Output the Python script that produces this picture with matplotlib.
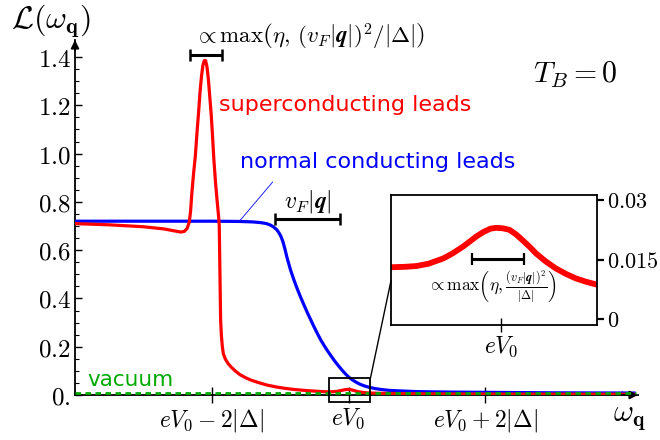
import matplotlib
matplotlib.use("Agg")
import matplotlib.pyplot as plt
from matplotlib.patches import Rectangle, ConnectionPatch

plt.rcParams["mathtext.fontset"] = "cm"
plt.rcParams["font.family"] = ["DejaVu Sans"]

# frequency axis in units of |Delta|, centred on eV0
omega_sc = [-4.0, -3.5, -3.0, -2.7, -2.55, -2.45, -2.40, -2.36, -2.33, -2.31, -2.29,
            -2.265, -2.24, -2.215, -2.19, -2.17, -2.15, -2.13, -2.11, -2.09, -2.07,
            -2.05, -2.03, -2.01, -1.99, -1.97, -1.945, -1.92, -1.90, -1.89, -1.885,
            -1.88, -1.875, -1.87, -1.86, -1.845, -1.83, -1.80, -1.76, -1.72, -1.65,
            -1.58, -1.5, -1.43, -1.3, -1.19, -1.05, -0.94, -0.8, -0.6, -0.45,
            -0.32, -0.28, -0.245, -0.21, -0.168, -0.14, -0.11, -0.09, -0.072, -0.05,
            -0.03, -0.014, 0.005, 0.025, 0.045, 0.063, 0.083, 0.102, 0.13, 0.16,
            0.19, 0.218, 0.246, 0.276, 0.32, 0.5, 0.75, 1.0, 1.5, 2.0, 3.0, 4.2]
L_sc = [0.710, 0.705, 0.697, 0.688, 0.680, 0.675, 0.678, 0.690, 0.715, 0.76, 0.84,
        0.92, 0.99, 1.09, 1.18, 1.26, 1.32, 1.365, 1.385, 1.385, 1.36,
        1.31, 1.24, 1.17, 1.08, 0.98, 0.88, 0.80, 0.74, 0.70, 0.60,
        0.50, 0.40, 0.31, 0.25, 0.20, 0.17, 0.148, 0.13, 0.117, 0.098,
        0.083, 0.071, 0.062, 0.050, 0.041, 0.033, 0.028, 0.023, 0.018, 0.0153,
        0.0131, 0.0132, 0.0134, 0.0140, 0.0153, 0.0166, 0.0183, 0.0196, 0.0208, 0.0220,
        0.0228, 0.0230, 0.0229, 0.0225, 0.0213, 0.0199, 0.0183, 0.0166, 0.0146, 0.0128,
        0.0114, 0.0103, 0.0095, 0.0088, 0.0082, 0.0068, 0.0057, 0.0050, 0.0044, 0.0040,
        0.0035, 0.0030]

omega_nc = [-4.0, -3.0, -2.0, -1.6, -1.4, -1.28, -1.2, -1.15, -1.1, -1.05, -1.02,
            -0.99, -0.96, -0.93, -0.9, -0.85, -0.8, -0.75, -0.7, -0.65, -0.6, -0.55,
            -0.5, -0.45, -0.4, -0.35, -0.3, -0.25, -0.2, -0.15, -0.1, -0.05, 0.0,
            0.05, 0.1, 0.15, 0.2, 0.25, 0.3, 0.4, 0.5, 0.6, 0.75, 1.0, 1.5, 2.0,
            3.0, 4.2]
L_nc = [0.720, 0.720, 0.720, 0.719, 0.717, 0.714, 0.710, 0.705, 0.697, 0.685, 0.673,
        0.658, 0.636, 0.605, 0.570, 0.520, 0.478, 0.440, 0.405, 0.372, 0.340, 0.310,
        0.280, 0.252, 0.225, 0.202, 0.180, 0.160, 0.140, 0.122, 0.105, 0.089, 0.075,
        0.064, 0.055, 0.047, 0.041, 0.036, 0.032, 0.026, 0.022, 0.019, 0.017, 0.014,
        0.012, 0.011, 0.009, 0.008]

omega_vac = [-4.0, 4.2]
L_vac = [0.007, 0.007]

y_ticks = [0.0, 0.2, 0.4, 0.6, 0.8, 1.0, 1.2, 1.4]
y_tick_labels = ["0.", "0.2", "0.4", "0.6", "0.8", "1.0", "1.2", "1.4"]
x_ticks = [-2.0, 0.0, 2.0]
x_tick_labels = [r"$eV_0-2|\Delta|$", r"$eV_0$", r"$eV_0+2|\Delta|$"]
inset_y_ticks = [0.0, 0.015, 0.03]
inset_y_labels = ["0", "0.015", "0.03"]

RED = "#ff0000"
BLUE = "#0000ff"
GREEN = "#00aa00"

fig = plt.figure(figsize=(6.6, 4.4), dpi=100)
ax = fig.add_axes([75 / 660, 45 / 440, 563 / 660, 355 / 440])
ax.set_xlim(-4.0, 4.234)
ax.set_ylim(0.0, 1.4706)

ax.plot(omega_vac, L_vac, color=GREEN, lw=2.0, ls=(0, (2, 1.6)), zorder=4)
ax.plot(omega_nc, L_nc, color=BLUE, lw=2.3, zorder=3, solid_capstyle="butt")
ax.plot(omega_sc, L_sc, color=RED, lw=2.3, zorder=3, solid_capstyle="butt")

for s in ["top", "right"]:
    ax.spines[s].set_visible(False)
for s in ["left", "bottom"]:
    ax.spines[s].set_linewidth(1.3)
    ax.spines[s].set_zorder(2)

# arrow heads on the axes
ax.annotate("", xy=(1.0, 0), xytext=(0.97, 0), xycoords="axes fraction",
            arrowprops=dict(arrowstyle="-|>", color="black", lw=1.3,
                            mutation_scale=12, shrinkA=0, shrinkB=0))
ax.annotate("", xy=(0, 1.0), xytext=(0, 0.97), xycoords="axes fraction",
            arrowprops=dict(arrowstyle="-|>", color="black", lw=1.3,
                            mutation_scale=12, shrinkA=0, shrinkB=0))

ax.set_yticks(y_ticks)
ax.set_yticklabels([f"${t}$" for t in y_tick_labels], fontsize=18)
ax.set_yticks([v * 0.05 for v in range(29)], minor=True)
ax.tick_params(axis="y", which="major", direction="in", length=5, width=1.0, pad=3)
ax.tick_params(axis="y", which="minor", direction="in", length=3, width=0.8)

ax.set_xticks(x_ticks)
ax.set_xticklabels(x_tick_labels, fontsize=17)
ax.set_xticks([-4.0, 4.0], minor=True)
ax.tick_params(axis="x", which="major", direction="inout", length=11, width=1.0, pad=3)
ax.tick_params(axis="x", which="minor", direction="in", length=3, width=0.8)

# axis labels
fig.text(51 / 660, 1 - 21 / 440, r"$\mathcal{L}(\omega_{\mathbf{q}})$",
         fontsize=23, ha="center", va="center")
fig.text(629 / 660, 1 - 418 / 440, r"$\omega_{\mathbf{q}}$",
         fontsize=22, ha="center", va="center")

# width bars
ax.errorbar([-2.085], [1.41], xerr=[[0.235], [0.235]], fmt="none", ecolor="black",
            elinewidth=2.2, capsize=4.5, capthick=1.8, clip_on=False, zorder=5)
ax.text(-0.57, 1.485, r"$\propto \mathrm{max}\left(\eta,\, (v_F|\boldsymbol{q}|)^2/|\Delta|\right)$",
        fontsize=16.5, ha="center", va="center", clip_on=False)

ax.errorbar([-0.6], [0.729], xerr=[[0.48], [0.48]], fmt="none", ecolor="black",
            elinewidth=2.2, capsize=4.5, capthick=1.8, zorder=5)
ax.text(-0.6, 0.80, r"$v_F|\boldsymbol{q}|$", fontsize=17, ha="center", va="center")

# curve labels
ax.text(-1.90, 1.20, "superconducting leads", color=RED, fontsize=16,
        ha="left", va="center")
ax.text(-1.58, 0.965, "normal conducting leads", color=BLUE, fontsize=16,
        ha="left", va="center")
ax.plot([-1.58, -1.11], [0.725, 0.882], color=BLUE, lw=0.6, zorder=2)
ax.text(-3.82, 0.062, "vacuum", color=GREEN, fontsize=15.5, ha="left", va="center")
ax.text(2.70, 1.325, r"$T_B=0$", fontsize=21.5, ha="left", va="center")

# zoom window around eV0
ax.add_patch(Rectangle((-0.292, -0.028), 0.613, 0.098, fill=False, ec="black",
                       lw=1.3, zorder=6, clip_on=False))

ins = fig.add_axes([391 / 660, 1 - 325 / 440, 206 / 660, 130 / 440])
ins.set_xlim(-0.32, 0.28)
ins.set_ylim(-0.00143, 0.03126)
ins.plot(omega_sc, L_sc, color=RED, lw=4.2, solid_capstyle="butt")
for s in ins.spines.values():
    s.set_linewidth(1.3)
ins.yaxis.tick_right()
ins.set_yticks(inset_y_ticks)
ins.set_yticklabels([f"${t}$" for t in inset_y_labels], fontsize=16)
ins.tick_params(axis="y", direction="out", length=5, width=1.6, pad=2)
ins.set_xticks([0.0])
ins.set_xticklabels([r"$eV_0$"], fontsize=17)
ins.tick_params(axis="x", direction="inout", length=10, width=1.0, pad=2)
ins.errorbar([-0.0085], [0.0151], xerr=[[0.0745], [0.0745]], fmt="none", ecolor="black",
             elinewidth=2.2, capsize=4, capthick=1.6)
ins.text(-0.027, 0.0082,
         r"$\propto \mathrm{max}\left(\eta, \frac{(v_F|\boldsymbol{q}|)^2}{|\Delta|}\right)$",
         fontsize=12.5, ha="center", va="center")

con = ConnectionPatch(xyA=(0.321, 0.070), coordsA=ax.transData,
                      xyB=(0.0, 0.341), coordsB=ins.transAxes,
                      color="black", lw=1.0)
fig.add_artist(con)

fig.savefig("out.png", dpi=100)
